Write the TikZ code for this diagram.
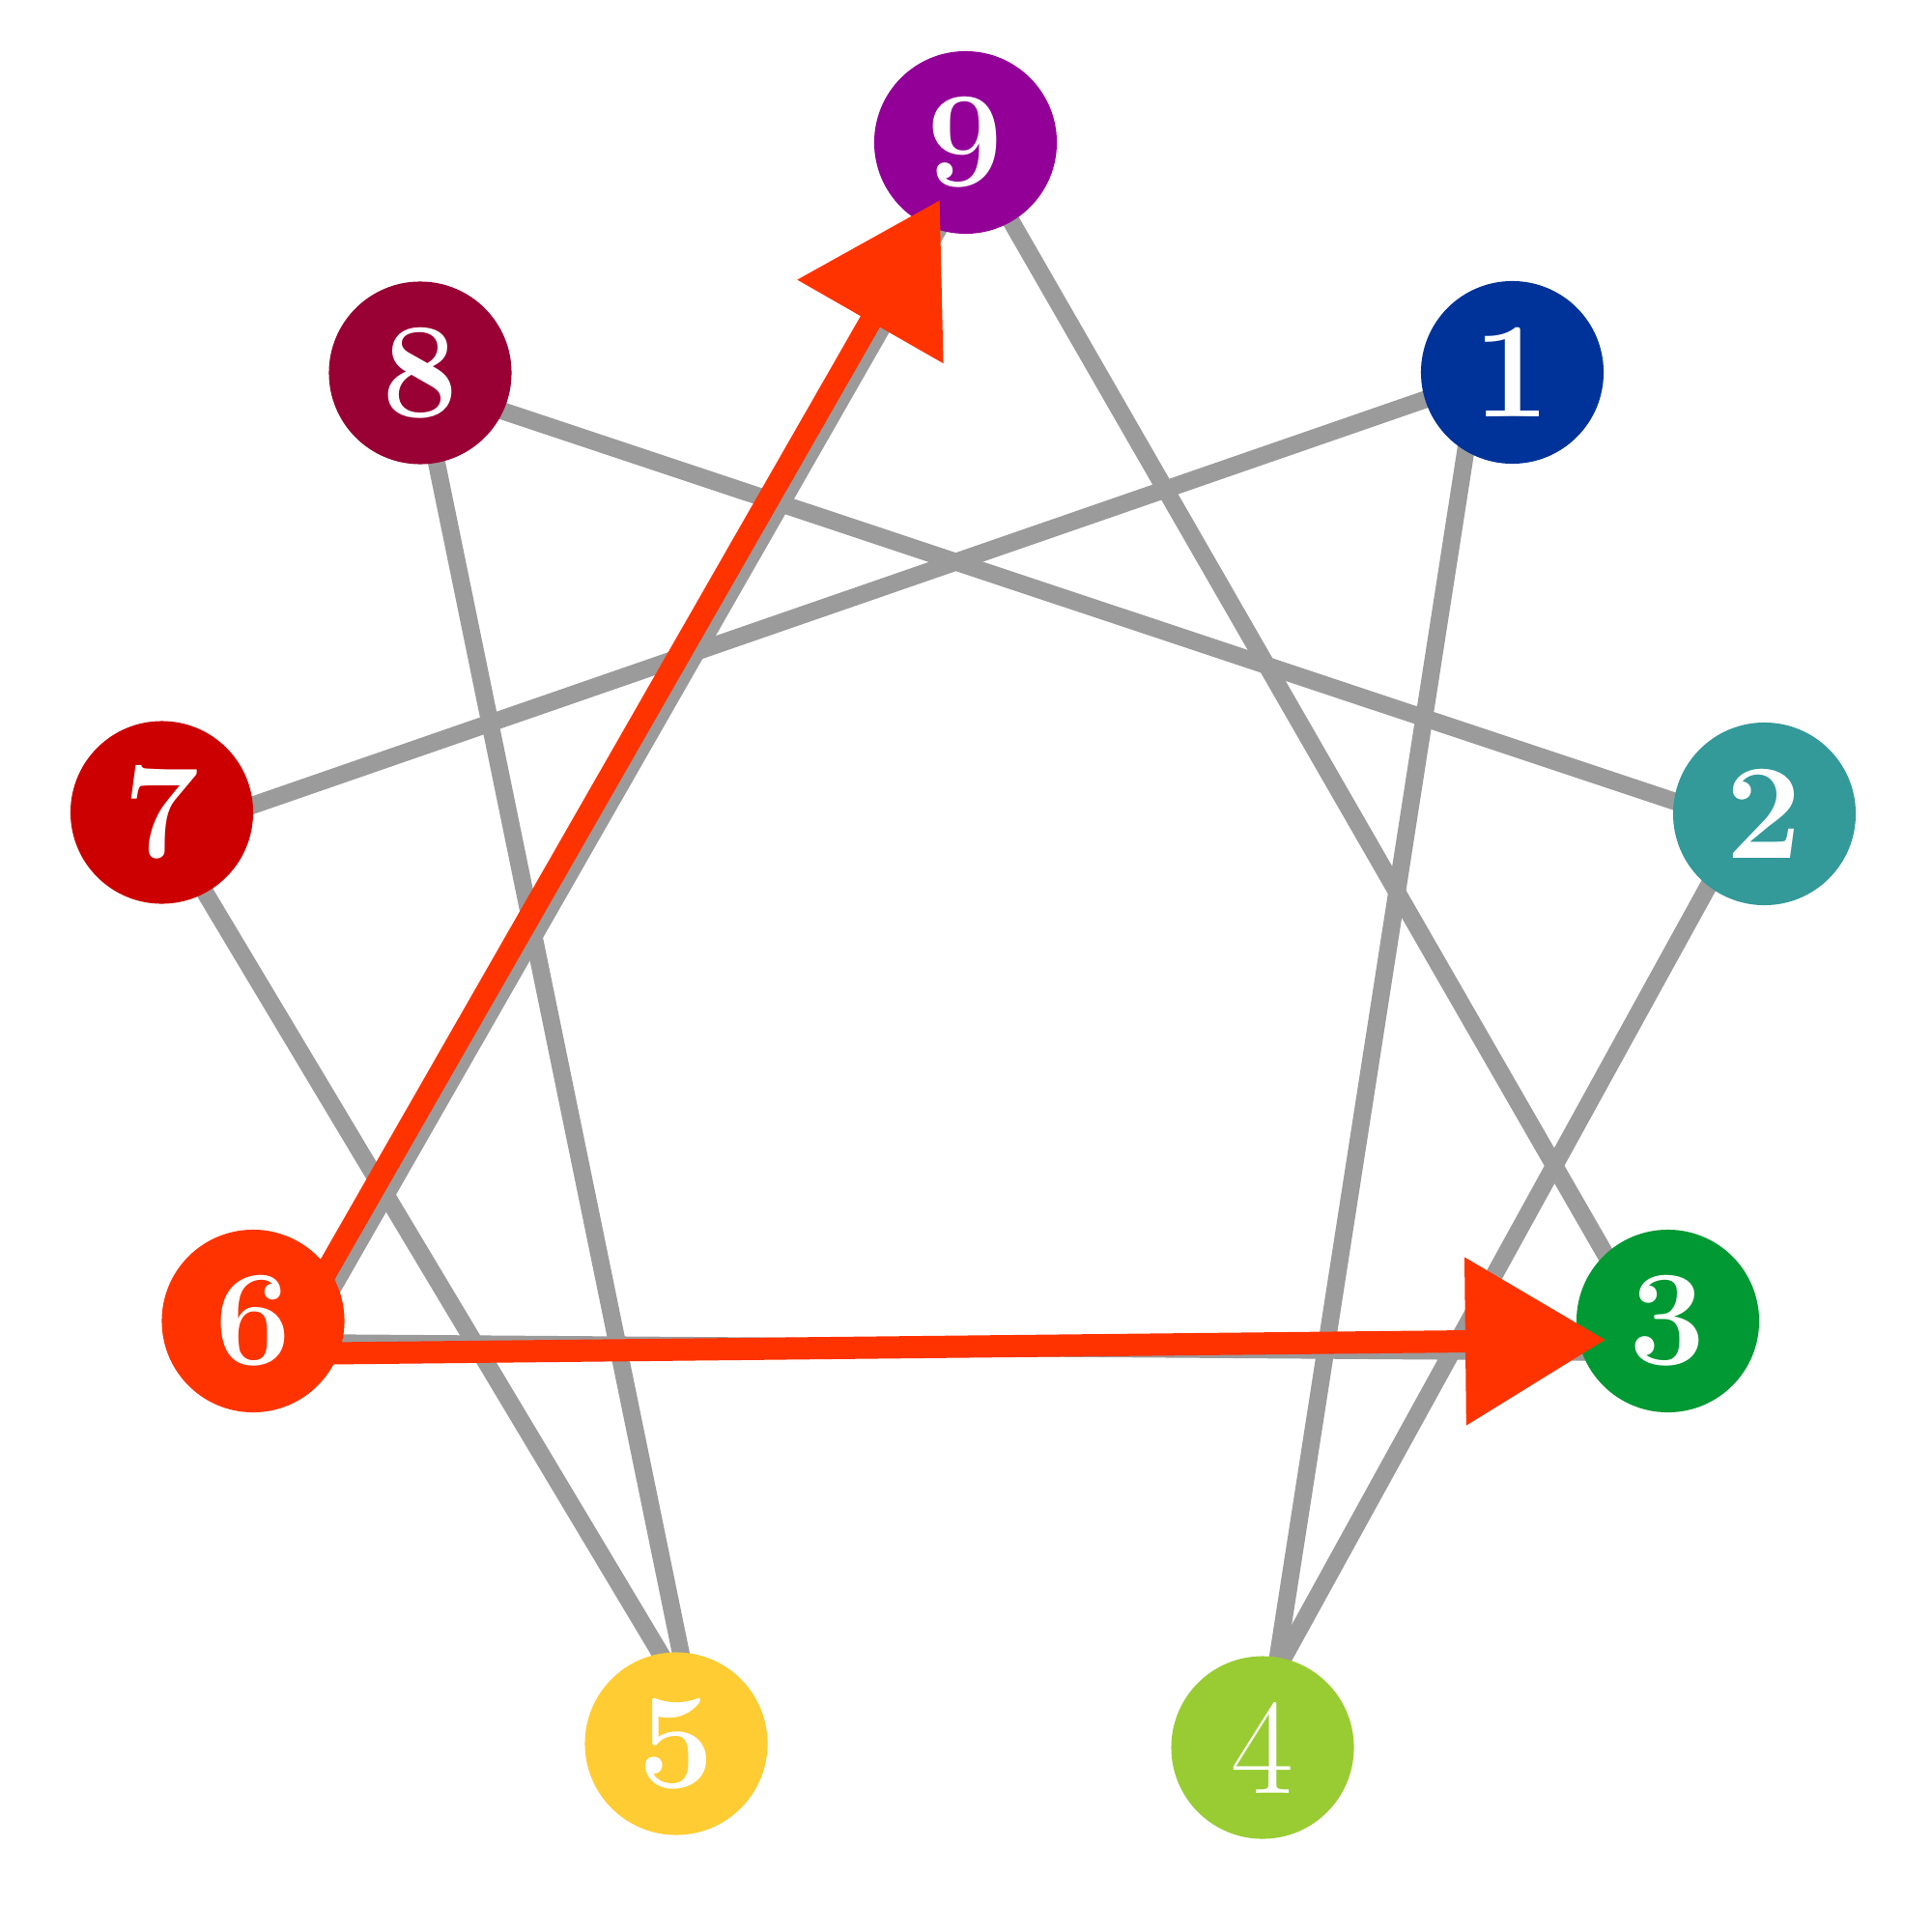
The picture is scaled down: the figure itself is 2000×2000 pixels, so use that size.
\documentclass[tikz,border=0pt]{standalone}
\usetikzlibrary{arrows.meta,calc}
\pgfdeclarelayer{paper}
\pgfdeclarelayer{bg}
\pgfsetlayers{paper,bg,main}
\definecolor{c9}{HTML}{930098}
\definecolor{c8}{HTML}{990033}
\definecolor{c1}{HTML}{003399}
\definecolor{c7}{HTML}{CC0000}
\definecolor{c2}{HTML}{339999}
\definecolor{c6}{HTML}{FF3300}
\definecolor{c3}{HTML}{009933}
\definecolor{c5}{HTML}{FFCC33}
\definecolor{c4}{HTML}{99CC33}
\definecolor{linegray}{HTML}{9B9B9B}
\definecolor{arrowred}{HTML}{FF3300}
\begin{document}
\begin{tikzpicture}[x=0.01cm,y=-0.01cm,
  dot/.style={circle,minimum size=1.89cm,inner sep=0pt,text=white,
    font=\fontsize{40}{48}\selectfont\bfseries},
  thindot/.style={dot,font=\fontsize{40}{48}\selectfont\mdseries},
  edge/.style={draw=linegray,line width=0.18cm},
  redarrow/.style={draw=arrowred,line width=0.23cm,
    -{Triangle[length=14.5mm,width=16.8mm]}}]
\begin{pgfonlayer}{paper}
\fill[white] (0,0) rectangle (2000,2000);
\end{pgfonlayer}
\useasboundingbox (0,0) rectangle (2000,2000);

\node[dot,fill=c9] (n9) at (999.5,147.5) {9};
\node[dot,fill=c8] (n8) at (435,386) {8};
\node[dot,fill=c1] (n1) at (1565.5,385.5) {1};
\node[dot,fill=c7] (n7) at (167.5,841) {7};
\node[dot,fill=c2] (n2) at (1826.5,842.5) {2};
\node[dot,fill=c6] (n6) at (262,1367.5) {6};
\node[dot,fill=c3] (n3) at (1726.5,1367.5) {3};
\node[dot,fill=c5] (n5) at (700,1805) {5};
\node[thindot,fill=c4] (n4) at (1307,1809) {4};

\begin{pgfonlayer}{bg}
\draw[edge] ($(n9)+(30.5,52.5)$) -- ($(n3)+(-46.5,-37.5)$);
\draw[edge] ($(n8)+(45,26)$) -- ($(n2)+(-46.5,2.5)$);
\draw[edge] ($(n8)+(9,54)$) -- ($(n5)+(10.7,-65)$);
\draw[edge] ($(n7)+(18.5,39)$) -- ($(n5)+(0.6,-65)$);
\draw[edge] ($(n7)+(52.5,7)$) -- ($(n1)+(-65.5,19.5)$);
\draw[edge] ($(n1)+(-42.5,44.5)$) -- ($(n4)+(12,-69)$);
\draw[edge] ($(n2)+(-37.5,37.5)$) -- ($(n4)+(8.5,-69)$);
\draw[edge] ($(n6)+(38,22.5)$) -- ($(n3)+(-26.5,32.5)$);
\draw[edge] ($(n6)+(78.5,-27.5)$) -- ($(n9)+(-15.5,67.5)$);
\end{pgfonlayer}

\draw[redarrow] ($(n6)+(68,-37.5)$) -- ($(n9)+(-26.5,59.5)$);
\draw[redarrow] ($(n6)+(78,33.5)$) -- ($(n3)+(-64.5,19.5)$);
\end{tikzpicture}
\end{document}
